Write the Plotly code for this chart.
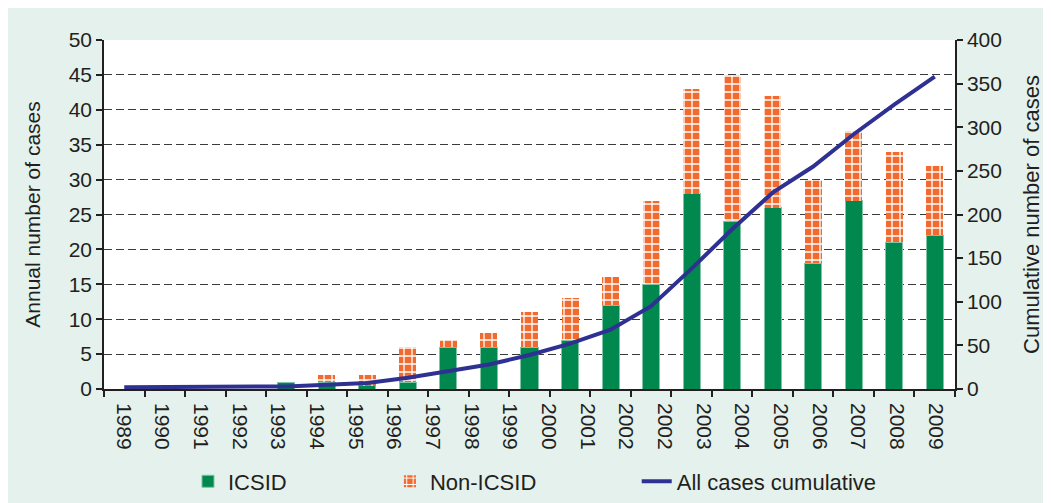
import plotly.graph_objects as go

# ---- data ----
years = list(range(1989, 2010))
tick_labels = ["1989", "1990", "1991", "1992", "1993", "1994", "1995", "1996",
               "1997", "1998", "1999", "2000", "2001", "2002", "2002", "2003",
               "2004", "2005", "2006", "2007", "2008", "2009"]
icsid = [0, 0, 0, 0, 1, 1, 0.5, 1, 6, 6, 6, 7, 12, 15, 28, 24, 26, 18, 27, 21, 22]
non_icsid = [0, 0, 0, 0, 0, 1, 1.5, 5, 1, 2, 5, 6, 4, 12, 15, 21, 16, 12, 10, 13, 10]
cumulative = [2, 2, 2, 2, 3, 5, 7, 13, 20, 28, 39, 52, 68, 95, 138, 183, 225, 255,
              292, 326, 358]

# ---- styling ----
GREEN = "#00884f"
ORANGE = "#f26a2e"
NAVY = "#2e3192"
BG = "#e5f1ec"
FONT = "Liberation Sans, Arial, sans-serif"
TXT = "#231f20"
AX = "#231f20"

n = len(years)
slot = [i + 0.5 for i in range(n)]
label_pos = [(k + 0.5) * n / len(tick_labels) for k in range(len(tick_labels))]

fig = go.Figure()
fig.add_trace(go.Bar(
    x=slot, y=icsid, name="ICSID", width=0.42, legend="legend",
    marker=dict(color=GREEN, line=dict(color="#7fc4a4", width=1)),
))
fig.add_trace(go.Bar(
    x=slot, y=non_icsid, name="Non-ICSID", width=0.42, legend="legend2",
    marker=dict(color=ORANGE, line=dict(width=0),
                pattern=dict(shape="+", fgcolor="white", bgcolor=ORANGE,
                             size=8, solidity=0.3, fillmode="replace")),
))
fig.add_trace(go.Scatter(
    x=slot, y=cumulative, name="All cases cumulative", yaxis="y2", legend="legend3",
    mode="lines", line=dict(color=NAVY, width=4),
))

leg = dict(orientation="h", xanchor="left", y=-0.265, yanchor="middle",
           font=dict(size=22), bgcolor="rgba(0,0,0,0)")

fig.update_layout(
    width=1043, height=495,
    barmode="stack",
    paper_bgcolor=BG, plot_bgcolor="white",
    margin=dict(l=96, r=96, t=32, b=114, autoexpand=False),
    font=dict(family=FONT, size=21, color=TXT),
    showlegend=True,
    legend=dict(leg, x=0.0987),
    legend2=dict(leg, x=0.336),
    legend3=dict(leg, x=0.626),
    xaxis=dict(
        range=[0, n], tickmode="array", tickvals=label_pos, ticktext=tick_labels,
        tickangle=90, ticks="", showgrid=False, zeroline=False, automargin=False,
        showline=True, linecolor=AX, linewidth=1.5, ticklabelstandoff=8,
        tickfont=dict(size=21),
        minor=dict(tickmode="array", tickvals=list(range(n + 1)), ticks="outside",
                   ticklen=6, tickwidth=1.5, tickcolor=AX, showgrid=False),
    ),
    yaxis=dict(
        range=[0, 50], dtick=5, tick0=0, showgrid=True, gridcolor="#3a3a3a",
        griddash="8px,4px", gridwidth=1, zeroline=False, showline=True,
        linecolor=AX, linewidth=1.5, ticks="outside", ticklen=6, automargin=False,
        tickcolor=AX, tickwidth=1.5, tickfont=dict(size=21),
        title=dict(text="Annual number of cases", standoff=22, font=dict(size=21)),
    ),
    yaxis2=dict(
        range=[0, 400], dtick=50, tick0=0, overlaying="y", side="right",
        showgrid=False, zeroline=False, showline=True, linecolor=AX, automargin=False,
        linewidth=1.5, ticks="outside", ticklen=6, tickcolor=AX, tickwidth=1.5,
        tickfont=dict(size=21),
        title=dict(text="Cumulative number of cases", standoff=23, font=dict(size=22)),
    ),
)

fig.write_html("out.html")
